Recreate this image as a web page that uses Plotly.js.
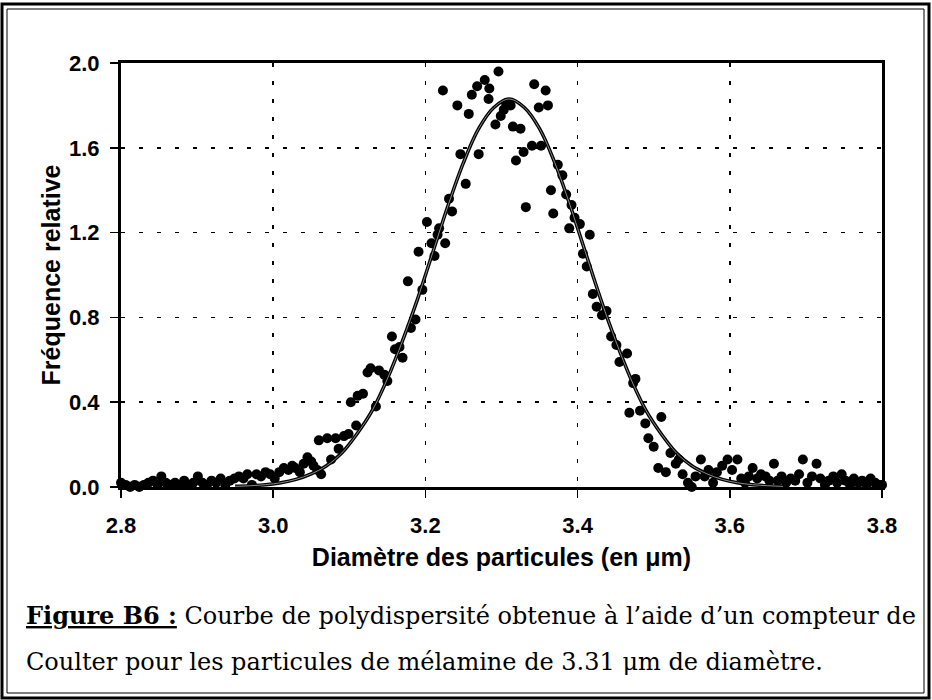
<!DOCTYPE html>
<html>
<head>
<meta charset="utf-8">
<script src="https://cdn.plot.ly/plotly-3.0.1.min.js"></script>
<style>html,body{margin:0;padding:0;background:#fff;}#chart{width:932px;height:700px;}</style>
</head>
<body>
<div id="chart"></div>
<script>
// Measured points (diameter in µm, relative frequency)
const diam = [2.800,2.806,2.812,2.818,2.824,2.830,2.836,2.842,2.848,2.853,2.859,2.865,2.871,2.877,2.883,2.889,2.895,2.901,2.907,2.913,2.919,2.925,2.931,2.937,2.943,2.949,2.955,2.961,2.966,2.972,2.978,2.984,2.990,2.996,3.002,3.008,3.014,3.020,3.025,3.029,3.035,3.040,3.045,3.050,3.053,3.058,3.060,3.063,3.071,3.076,3.082,3.086,3.093,3.099,3.102,3.109,3.111,3.118,3.124,3.128,3.135,3.139,3.146,3.150,3.156,3.160,3.166,3.170,3.177,3.181,3.187,3.191,3.196,3.202,3.208,3.212,3.216,3.218,3.223,3.226,3.231,3.235,3.242,3.246,3.253,3.257,3.261,3.268,3.270,3.278,3.283,3.284,3.292,3.296,3.299,3.303,3.306,3.312,3.315,3.319,3.325,3.329,3.332,3.340,3.343,3.349,3.352,3.358,3.361,3.365,3.368,3.374,3.380,3.385,3.389,3.392,3.396,3.403,3.407,3.412,3.416,3.420,3.425,3.432,3.438,3.444,3.451,3.455,3.465,3.468,3.473,3.476,3.482,3.489,3.493,3.500,3.506,3.510,3.516,3.522,3.529,3.533,3.538,3.545,3.550,3.555,3.562,3.567,3.572,3.578,3.583,3.590,3.597,3.603,3.610,3.615,3.620,3.625,3.630,3.636,3.641,3.647,3.652,3.658,3.663,3.668,3.674,3.680,3.686,3.691,3.696,3.702,3.708,3.714,3.719,3.725,3.730,3.736,3.741,3.747,3.752,3.758,3.763,3.769,3.774,3.780,3.785,3.791,3.796,3.800];
const freq = [0.02,0.01,0.00,0.01,0.00,0.01,0.02,0.03,0.01,0.05,0.02,0.01,0.02,0.01,0.03,0.01,0.02,0.05,0.02,0.01,0.03,0.02,0.04,0.01,0.03,0.04,0.05,0.04,0.06,0.01,0.06,0.05,0.07,0.06,0.04,0.07,0.09,0.08,0.10,0.09,0.07,0.11,0.14,0.12,0.10,0.08,0.22,0.06,0.23,0.13,0.23,0.18,0.24,0.25,0.40,0.29,0.43,0.44,0.54,0.56,0.38,0.55,0.53,0.50,0.71,0.65,0.66,0.61,0.97,0.75,0.79,1.11,0.93,1.25,1.15,1.09,1.19,1.22,1.87,1.15,1.36,1.30,1.80,1.57,1.43,1.76,1.85,1.89,1.57,1.92,1.83,1.88,1.71,1.96,1.75,1.78,1.81,1.80,1.70,1.54,1.69,1.58,1.32,1.61,1.90,1.79,1.61,1.87,1.80,1.40,1.29,1.52,1.47,1.38,1.22,1.33,1.27,1.24,1.10,1.04,1.19,0.91,0.85,0.81,0.83,0.71,0.67,0.59,0.63,0.35,0.49,0.51,0.36,0.30,0.23,0.19,0.09,0.33,0.07,0.16,0.11,0.13,0.06,0.02,0.00,0.05,0.13,0.05,0.08,0.02,0.07,0.10,0.13,0.08,0.13,0.04,0.02,0.05,0.09,0.04,0.06,0.05,0.03,0.11,0.03,0.05,0.02,0.04,0.03,0.06,0.13,0.02,0.05,0.11,0.04,0.01,0.03,0.05,0.02,0.06,0.03,0.01,0.04,0.02,0.03,0.01,0.04,0.02,0.01,0.01];

// Fitted curve
const fitX = [2.95,2.97,2.99,3.01,3.03,3.05,3.07,3.09,3.11,3.13,3.15,3.17,3.19,3.21,3.23,3.25,3.27,3.29,3.31,3.33,3.35,3.37,3.39,3.41,3.43,3.45,3.47,3.49,3.51,3.53,3.55,3.57,3.59,3.61,3.63,3.65,3.67];
const fitY = [0.003,0.006,0.011,0.020,0.036,0.062,0.10,0.16,0.25,0.36,0.51,0.69,0.89,1.11,1.33,1.53,1.69,1.79,1.83,1.79,1.69,1.53,1.33,1.11,0.89,0.69,0.51,0.36,0.25,0.16,0.10,0.062,0.036,0.020,0.011,0.006,0.003];

const xTicks = [2.8,3.0,3.2,3.4,3.6,3.8];
const xTickText = ['2.8','3.0','3.2','3.4','3.6','3.8'];
const yTicks = [0,0.4,0.8,1.2,1.6,2.0];
const yTickText = ['0.0','0.4','0.8','1.2','1.6','2.0'];

const xTitle = 'Diamètre des particules (en μm)';
const yTitle = 'Fréquence relative';
const caption1 = '<b><u>Figure B6 :</u></b> Courbe de polydispersité obtenue à l’aide d’un compteur de';
const caption2 = 'Coulter pour les particules de mélamine de 3.31 μm de diamètre.';

// geometry helpers (pixels -> paper)
const W = 932, H = 700, L = 121, R = 50, T = 63, B = 213;
const pw = W - L - R, ph = H - T - B;
const px = v => (v - L) / pw;
const py = v => (H - B - v) / ph;

const traces = [
  {x: diam, y: freq, type: 'scatter', mode: 'markers',
   marker: {color: '#000', size: 10}, hoverinfo: 'skip', cliponaxis: false},
  {x: fitX, y: fitY, type: 'scatter', mode: 'lines',
   line: {color: '#000', width: 3.5, shape: 'spline'}, hoverinfo: 'skip'},
  {x: fitX, y: fitY, type: 'scatter', mode: 'lines',
   line: {color: '#8a8a8a', width: 1, shape: 'spline'}, hoverinfo: 'skip'}
];

const tickFont = {family: 'Liberation Sans, Arial, sans-serif', size: 22, color: '#000', weight: 'bold'};
const titleFont = {family: 'Liberation Sans, Arial, sans-serif', size: 25, color: '#000'};
const layout = {
  width: W, height: H,
  margin: {l: L, r: R, t: T, b: B},
  paper_bgcolor: '#fff', plot_bgcolor: '#fff',
  showlegend: false,
  xaxis: {
    range: [2.8, 3.8], tickvals: xTicks, ticktext: xTickText,
    showline: true, linecolor: '#000', linewidth: 3, mirror: true,
    ticks: 'outside', ticklen: 8, tickwidth: 1.5, tickcolor: '#000',
    ticklabelstandoff: 9,
    showgrid: true, gridcolor: '#000', gridwidth: 1.5, griddash: '4px,14px',
    zeroline: false, tickfont: tickFont,
    title: {text: '<b>' + xTitle + '</b>', font: titleFont, standoff: 12}
  },
  yaxis: {
    range: [0, 2.0], tickvals: yTicks, ticktext: yTickText,
    showline: true, linecolor: '#000', linewidth: 3, mirror: true,
    ticks: 'outside', ticklen: 8, tickwidth: 1.5, tickcolor: '#000',
    ticklabelstandoff: 6,
    showgrid: true, gridcolor: '#000', gridwidth: 1.5, griddash: '4px,14px',
    zeroline: false, tickfont: tickFont,
    title: {text: '<b>' + yTitle + '</b>', font: titleFont, standoff: 2}
  },
  annotations: [
    {xref: 'paper', yref: 'paper', x: px(24), y: py(615), xanchor: 'left', yanchor: 'middle',
     text: caption1, showarrow: false, font: {family: 'DejaVu Serif, serif', size: 24, color: '#000'}},
    {xref: 'paper', yref: 'paper', x: px(24), y: py(662), xanchor: 'left', yanchor: 'middle',
     text: caption2, showarrow: false, font: {family: 'DejaVu Serif, serif', size: 24, color: '#000'}}
  ],
  shapes: [
    {type: 'rect', xref: 'paper', yref: 'paper', x0: px(2), x1: px(929), y0: py(4), y1: py(698),
     line: {color: '#000', width: 3}},
    {type: 'rect', xref: 'paper', yref: 'paper', x0: px(7), x1: px(924), y0: py(9), y1: py(693),
     line: {color: '#000', width: 1}}
  ]
};

Plotly.newPlot('chart', traces, layout, {staticPlot: true, displayModeBar: false});
</script>
</body>
</html>
